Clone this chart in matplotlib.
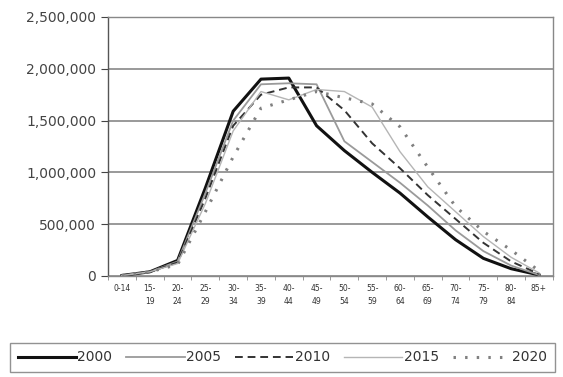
import matplotlib
matplotlib.use("Agg")
import matplotlib.pyplot as plt
from matplotlib.ticker import FuncFormatter, FixedLocator

categories = ["0-14", "15-\n19", "20-\n24", "25-\n29", "30-\n34", "35-\n39", "40-\n44",
              "45-\n49", "50-\n54", "55-\n59", "60-\n64", "65-\n69", "70-\n74", "75-\n79",
              "80-\n84", "85+"]

y2000 = [5000, 40000, 150000, 850000, 1590000, 1900000, 1910000, 1450000, 1210000,
         1000000, 800000, 570000, 350000, 170000, 70000, 10000]
y2005 = [5000, 40000, 140000, 800000, 1500000, 1850000, 1860000, 1850000, 1300000,
         1100000, 900000, 680000, 440000, 240000, 100000, 10000]
y2010 = [5000, 40000, 130000, 750000, 1450000, 1750000, 1820000, 1820000, 1600000,
         1280000, 1040000, 780000, 550000, 320000, 140000, 20000]
y2015 = [5000, 40000, 120000, 700000, 1400000, 1780000, 1700000, 1800000, 1780000,
         1630000, 1200000, 860000, 620000, 380000, 180000, 30000]
y2020 = [5000, 40000, 110000, 620000, 1150000, 1620000, 1700000, 1780000, 1720000,
         1660000, 1440000, 1050000, 670000, 430000, 250000, 50000]

years = ["2000", "2005", "2010", "2015", "2020"]
series = [y2000, y2005, y2010, y2015, y2020]

styles = [
    dict(color="#111111", lw=2.2, ls="-"),
    dict(color="#9a9a9a", lw=1.3, ls="-"),
    dict(color="#333333", lw=1.4, ls=(0, (4, 2.5))),
    dict(color="#b5b5b5", lw=1.0, ls="-"),
    dict(color="#808080", lw=2.2, ls=(0, (0.8, 3))),
]

fig = plt.figure(figsize=(5.63, 3.77), dpi=100)
ax = fig.add_axes([0.192, 0.268, 0.790, 0.687])

x = list(range(len(categories)))
handles = []
for vals, lab, st in zip(series, years, styles):
    h, = ax.plot(x, vals, label=lab, **st)
    handles.append(h)

ax.set_xlim(-0.5, len(categories) - 0.5)
ax.set_ylim(0, 2500000)
ax.set_yticks([0, 500000, 1000000, 1500000, 2000000, 2500000])
ax.yaxis.set_major_formatter(FuncFormatter(lambda v, p: f"{int(v):,}"))
ax.tick_params(axis="y", labelsize=10, colors="#444444", length=5, width=0.8)
ax.set_xticks(x)
ax.set_xticklabels(categories, fontsize=5.5, color="#333333", linespacing=1.6)
ax.xaxis.set_minor_locator(FixedLocator([i + 0.5 for i in range(-1, len(categories))]))
ax.tick_params(axis="x", which="major", length=0, pad=6)
ax.tick_params(axis="x", which="minor", length=3, color="#888888")
ax.yaxis.grid(True, color="#888888", lw=1.2)
ax.set_axisbelow(True)
for s in ax.spines.values():
    s.set_color("#888888")
    s.set_linewidth(1.0)
ax.spines["left"].set_color("#555555")

leg = fig.legend(handles=handles, labels=years, loc="lower left",
                 bbox_to_anchor=(0.018, 0.013, 0.968, 0.085), mode="expand",
                 ncol=5, frameon=True, fancybox=False, fontsize=10,
                 handlelength=4.2, handletextpad=0.1, columnspacing=0.3,
                 borderaxespad=0, borderpad=0.55)
leg.get_frame().set_edgecolor("#777777")
leg.get_frame().set_linewidth(1.0)
for t in leg.get_texts():
    t.set_color("#333333")

fig.savefig("out.png", dpi=100)
